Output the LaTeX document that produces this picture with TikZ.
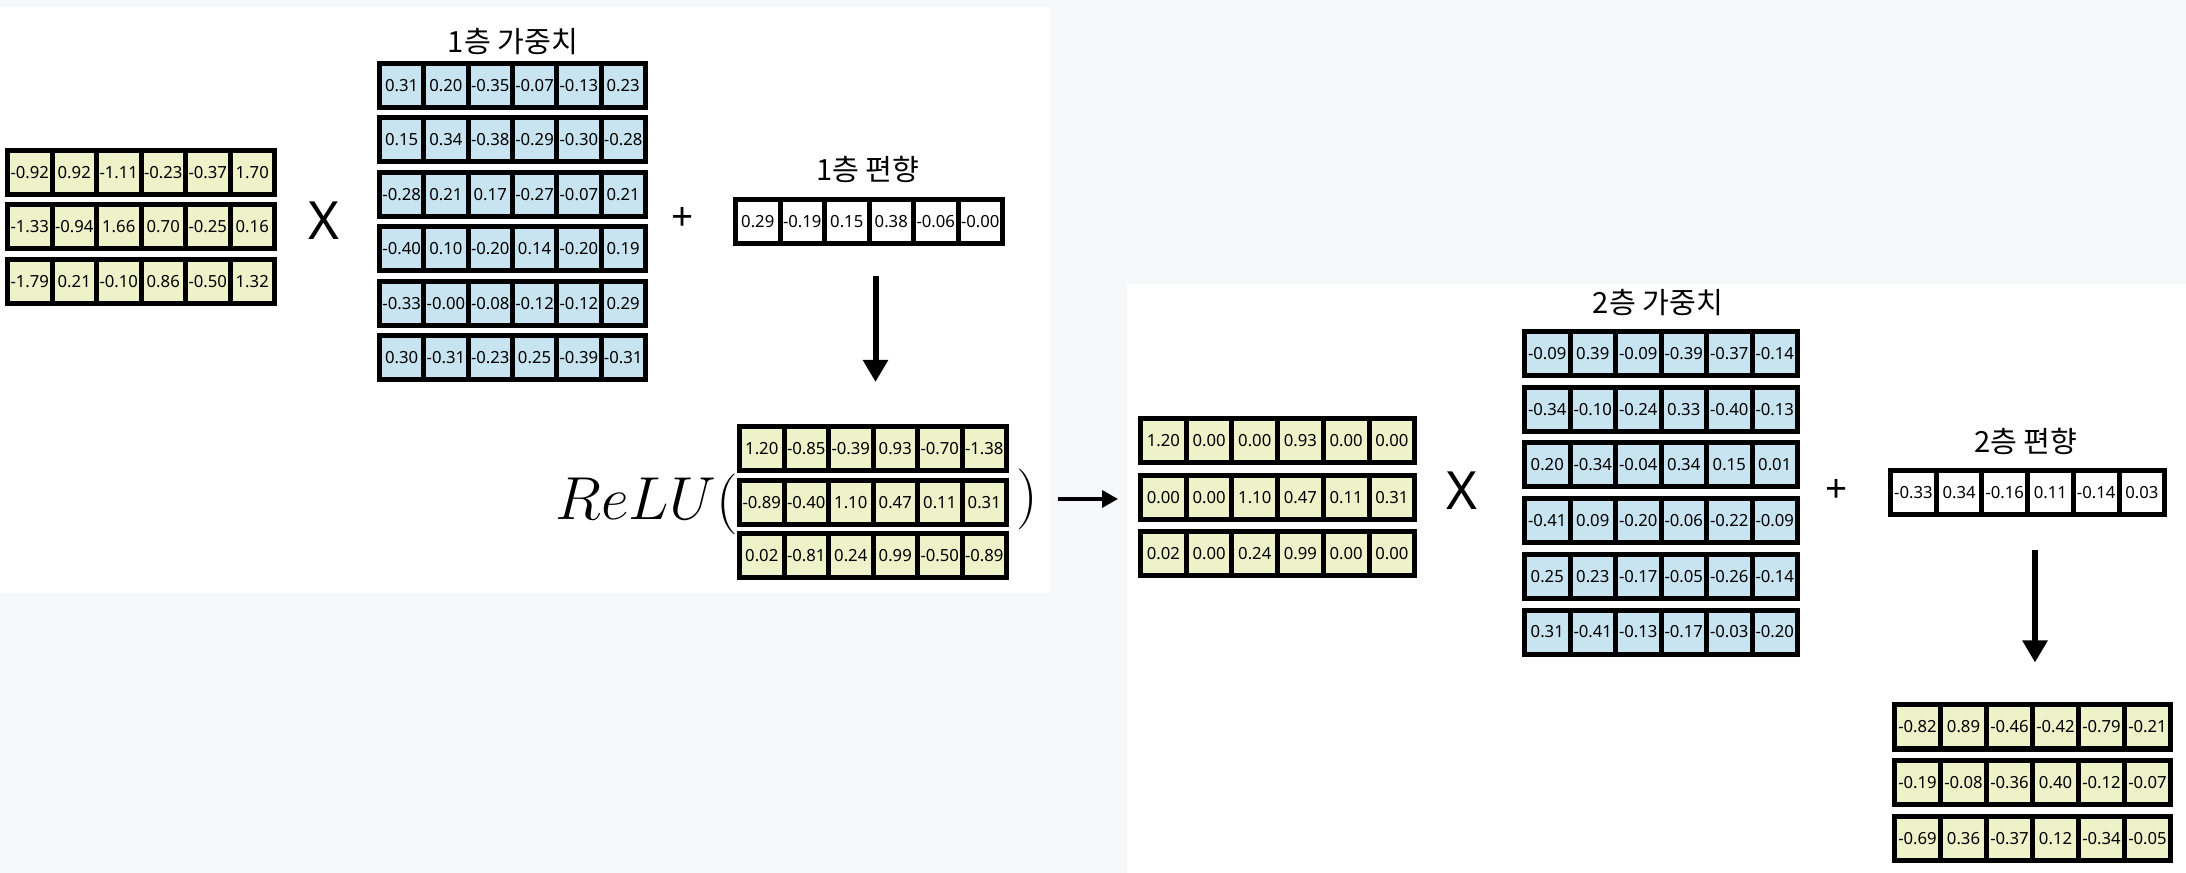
\documentclass[tikz,border=0pt]{standalone}
\usepackage{fontspec}
\setmainfont{Noto Sans}
\newfontfamily\kr{Noto Sans CJK KR}
\usetikzlibrary{arrows.meta}
\definecolor{cellyellow}{HTML}{EDF2C8}
\definecolor{cellblue}{HTML}{C8E4F0}
\definecolor{panelgray}{HTML}{F7F8FA}

\begin{document}
\begin{tikzpicture}[
  cell/.style={draw, line width=0.05cm, minimum width=0.445cm, minimum height=0.44cm, inner sep=0pt, font=\fontsize{4.75}{5}\selectfont},
  ycell/.style={cell, fill=cellyellow},
  bcell/.style={cell, fill=cellblue},
  wcell/.style={cell, fill=white},
  title/.style={font=\kr\fontsize{8.3}{9}\selectfont},
  times/.style={font=\fontsize{15}{15}\selectfont},
  plus/.style={font=\fontsize{11}{11}\selectfont},
  bigarrow/.style={->, >={Triangle[length=0.22cm,width=0.24cm]}, line width=0.06cm},
  smallarrow/.style={->, >={Triangle[length=0.16cm,width=0.17cm]}, line width=0.035cm}
]

\fill[panelgray] (0,0) rectangle (21.86,-8.73);
\fill[white] (0,-0.07) rectangle (10.50,-5.93);
\fill[white] (11.27,-2.84) rectangle (21.86,-8.73);
\useasboundingbox (0,0) rectangle (21.86,-8.73);

\foreach \row [count=\r] in {{-0.92,0.92,-1.11,-0.23,-0.37,1.70},{-1.33,-0.94,1.66,0.70,-0.25,0.16},{-1.79,0.21,-0.10,0.86,-0.50,1.32}}
  \foreach \v [count=\c] in \row
    \node[ycell] (in-\r-\c) at ({0.075+0.445*(\c-0.5)},{-1.725-0.545*(\r-1)}) {\v};

\node[title] (wa-title) at (5.13,-0.42) {1층 가중치};
\foreach \row [count=\r] in {{0.31,0.20,-0.35,-0.07,-0.13,0.23},{0.15,0.34,-0.38,-0.29,-0.30,-0.28},{-0.28,0.21,0.17,-0.27,-0.07,0.21},{-0.40,0.10,-0.20,0.14,-0.20,0.19},{-0.33,-0.00,-0.08,-0.12,-0.12,0.29},{0.30,-0.31,-0.23,0.25,-0.39,-0.31}}
  \foreach \v [count=\c] in \row
    \node[bcell, minimum width=0.443cm] (wa-\r-\c) at ({3.795+0.443*(\c-0.5)},{-0.855-0.544*(\r-1)}) {\v};

\node[title] (ba-title) at (8.68,-1.69) {1층 편향};
\foreach \v [count=\c] in {0.29,-0.19,0.15,0.38,-0.06,-0.00}
  \node[wcell] (ba-\c) at ({7.355+0.445*(\c-0.5)},-2.215) {\v};

\node[times] (times-a) at (3.24,-2.21) {X};
\node[plus] (plus-a) at (6.83,-2.19) {+};

\node[anchor=base west, inner sep=0pt, font=\fontsize{16.5}{18}\selectfont] (relu) at (5.55,-5.20) {$ReLU($};
\foreach \row [count=\r] in {{1.20,-0.85,-0.39,0.93,-0.70,-1.38},{-0.89,-0.40,1.10,0.47,0.11,0.31},{0.02,-0.81,0.24,0.99,-0.50,-0.89}}
  \foreach \v [count=\c] in \row
    \node[ycell] (ra-\r-\c) at ({7.395+0.445*(\c-0.5)},{-4.485-0.5375*(\r-1)}) {\v};
\node[inner sep=0pt, font=\fontsize{16.5}{18}\selectfont] (rparen) at (10.27,-4.99) {$)$};

\foreach \row [count=\r] in {{1.20,0.00,0.00,0.93,0.00,0.00},{0.00,0.00,1.10,0.47,0.11,0.31},{0.02,0.00,0.24,0.99,0.00,0.00}}
  \foreach \v [count=\c] in \row
    \node[ycell, minimum width=0.457cm] (rb-\r-\c) at ({11.405+0.457*(\c-0.5)},{-4.41-0.5625*(\r-1)}) {\v};

\node[times] (times-b) at (14.62,-4.91) {X};

\node[title] (wb-title) at (16.58,-3.03) {2층 가중치};
\foreach \row [count=\r] in {{-0.09,0.39,-0.09,-0.39,-0.37,-0.14},{-0.34,-0.10,-0.24,0.33,-0.40,-0.13},{0.20,-0.34,-0.04,0.34,0.15,0.01},{-0.41,0.09,-0.20,-0.06,-0.22,-0.09},{0.25,0.23,-0.17,-0.05,-0.26,-0.14},{0.31,-0.41,-0.13,-0.17,-0.03,-0.20}}
  \foreach \v [count=\c] in \row
    \node[bcell, minimum width=0.455cm] (wb-\r-\c) at ({15.245+0.455*(\c-0.5)},{-3.535-0.557*(\r-1)}) {\v};

\node[plus] (plus-b) at (18.37,-4.91) {+};

\node[title] (bb-title) at (20.26,-4.41) {2층 편향};
\foreach \v [count=\c] in {-0.33,0.34,-0.16,0.11,-0.14,0.03}
  \node[wcell, minimum width=0.457cm] (bb-\c) at ({18.905+0.457*(\c-0.5)},-4.93) {\v};

\foreach \row [count=\r] in {{-0.82,0.89,-0.46,-0.42,-0.79,-0.21},{-0.19,-0.08,-0.36,0.40,-0.12,-0.07},{-0.69,0.36,-0.37,0.12,-0.34,-0.05}}
  \foreach \v [count=\c] in \row
    \node[ycell, minimum width=0.46cm] (out-\r-\c) at ({18.945+0.46*(\c-0.5)},{-7.27-0.5575*(\r-1)}) {\v};

\draw[bigarrow, shorten <=0.30cm, shorten >=0.42cm] (ra-1-3.north east |- ba-3.south east) -- (ra-1-3.north east);
\draw[smallarrow, shorten <=0.20cm, shorten >=0.20cm] (rparen.east) -- (rparen.east -| rb-2-1.west);
\draw[bigarrow, shorten <=0.33cm, shorten >=0.40cm] (out-1-3.north east |- bb-3.south east) -- (out-1-3.north east);

\end{tikzpicture}
\end{document}
